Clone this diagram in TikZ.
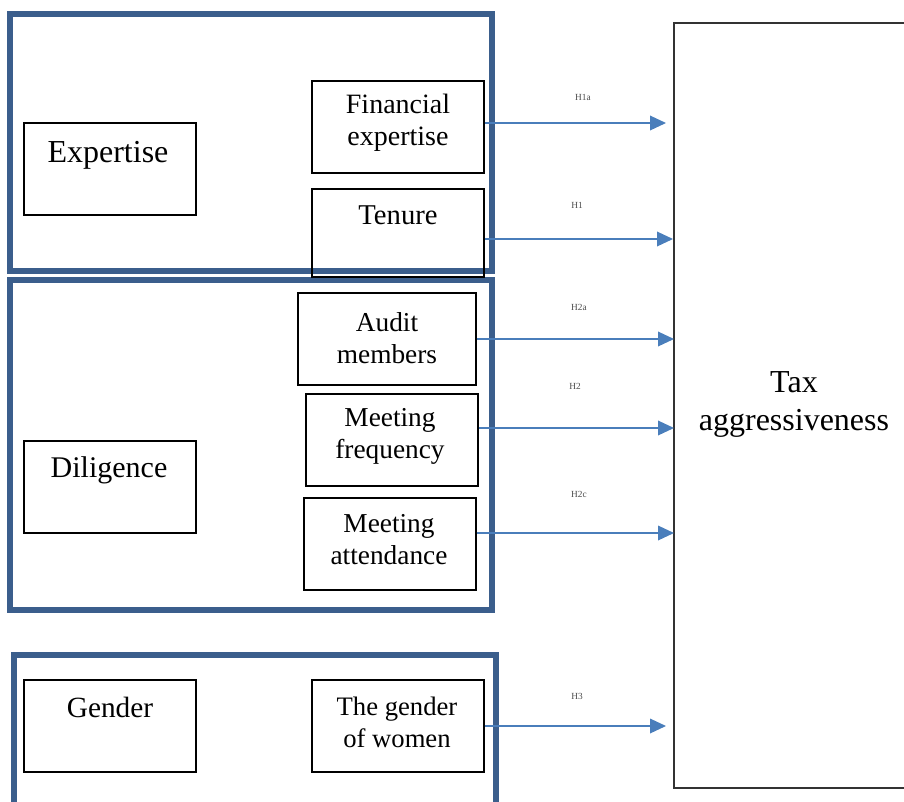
\documentclass[tikz,border=0pt]{standalone}
\usepackage{fontspec}
\setmainfont{Liberation Serif}
\usetikzlibrary{arrows.meta}
\definecolor{grpblue}{HTML}{3B5E8C}
\definecolor{arrblue}{HTML}{4A7EBB}
\definecolor{taxgray}{HTML}{333333}
\newcommand{\fsz}[1]{\fontsize{#1}{24}\selectfont}
\begin{document}
\begin{tikzpicture}[x=0.75pt,y=-0.75pt,
  grp/.style={draw=grpblue,line width=4pt},
  box/.style={draw=black,line width=1pt,inner sep=0pt},
  txt/.style={font=\fsz{20.5},align=center,inner sep=0pt},
  hl/.style={font=\fontsize{7}{8}\selectfont,text=black!70,inner sep=0pt},
  arr/.style={draw=arrblue,line width=1pt,-{Triangle[length=12pt,width=11pt]}}]
\useasboundingbox (0,0) rectangle (904,801);
% groups
\draw[grp] (10,14) rectangle (492,271);
\draw[grp] (10,280) rectangle (492,610);
\draw[grp] (14,655) rectangle (496,820);
% boxes
\node[box,minimum width=129pt,minimum height=69pt] (exp) at (110,169) {};
\node[box,minimum width=129pt,minimum height=69pt] (fin) at (398,127) {};
\node[box,minimum width=129pt,minimum height=66pt] (ten) at (398,233) {};
\node[box,minimum width=133.5pt,minimum height=69pt] (aud) at (387,339) {};
\node[box,minimum width=129pt,minimum height=69pt] (mfr) at (392,440) {};
\node[box,minimum width=129pt,minimum height=69pt] (mat) at (390,544) {};
\node[box,minimum width=129pt,minimum height=69pt] (dil) at (110,487) {};
\node[box,minimum width=129pt,minimum height=69pt] (gen) at (110,726) {};
\node[box,minimum width=129pt,minimum height=69pt] (gow) at (398,726) {};
\draw[draw=taxgray,line width=1.5pt] (940,23) -- (674,23) -- (674,788) -- (940,788);
\node[inner sep=0pt,minimum width=200pt,minimum height=573pt] (tax) at (807,405) {};
% texts
\node[txt,font=\fsz{24}] (texp) at (108,155) {Expertise};
\node[txt,font=\fsz{21}] (tfin) at (398,123) {Financial\\expertise};
\node[txt,font=\fsz{21.5}] (tten) at (398,215) {Tenure};
\node[txt] (taud) at (387,338) {Audit\\members};
\node[txt] (tmfr) at (390,436) {Meeting\\frequency};
\node[txt] (tmat) at (389,540) {Meeting\\attendance};
\node[txt,font=\fsz{22.5}] (tdil) at (109,470) {Diligence};
\node[txt,font=\fsz{22}] (tgen) at (110,707) {Gender};
\node[txt,font=\fsz{20}] (tgow) at (397,722) {The gender\\of women};
\node[txt,font=\fontsize{24}{28.5}\selectfont] (ttax) at (794,404) {Tax\\aggressiveness};
% arrows
\coordinate (e1) at (666,123);
\coordinate (e2) at (673,239);
\coordinate (e3) at (674,339);
\coordinate (e4) at (674,428);
\coordinate (e5) at (674,533);
\coordinate (e6) at (666,726);
\draw[arr] (fin.east |- e1) -- (e1);
\draw[arr] (ten.east |- e2) -- (e2);
\draw[arr] (aud.east |- e3) -- (e3);
\draw[arr] (mfr.east |- e4) -- (e4);
\draw[arr] (mat.east |- e5) -- (e5);
\draw[arr] (gow.east |- e6) -- (e6);
% hypothesis labels
\node[hl] (h1a) at (583,97) {H1a};
\node[hl] (h1) at (577,205) {H1};
\node[hl] (h2a) at (579,307) {H2a};
\node[hl] (h2) at (575,386) {H2};
\node[hl] (h2c) at (579,494) {H2c};
\node[hl] (h3) at (577,696) {H3};
\end{tikzpicture}
\end{document}
